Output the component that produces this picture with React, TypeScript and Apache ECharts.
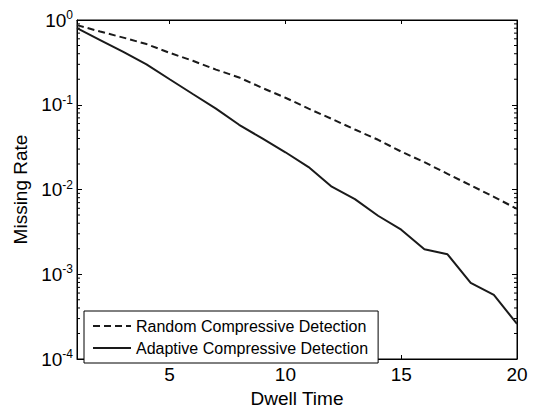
import React, { useEffect, useRef } from "react";
import * as echarts from "echarts";

const dwellTimes = [1, 2, 3, 4, 5, 6, 7, 8, 9, 10, 11, 12, 13, 14, 15, 16, 17, 18, 19, 20];
const randomRate = [0.87, 0.73, 0.62, 0.52, 0.41, 0.33, 0.26, 0.21, 0.158, 0.121, 0.09, 0.068, 0.051, 0.0386, 0.028, 0.021, 0.0153, 0.0112, 0.0082, 0.0059];
const adaptiveRate = [0.8, 0.58, 0.42, 0.3, 0.2, 0.134, 0.09, 0.058, 0.04, 0.0275, 0.0184, 0.0108, 0.0077, 0.0049, 0.00336, 0.00197, 0.00172, 0.00079, 0.00057, 0.00026];
const xTickValues = [5, 10, 15, 20];
const seriesNames = ["Random Compressive Detection", "Adaptive Compressive Detection"];
const minorTickValues: number[] = [];
for (let k = -4; k < 0; k++) {
  for (let m = 2; m <= 9; m++) minorTickValues.push(m * Math.pow(10, k));
}

const FONT = "Liberation Sans, Arial, Helvetica, sans-serif";

export default function App() {
  const ref = useRef<HTMLDivElement>(null);
  useEffect(() => {
    if (!ref.current) return;
    document.body.style.margin = "0";
    document.body.style.overflow = "hidden";
    const chart = echarts.init(ref.current, null, { renderer: "svg" });
    const xMin = 1;
    const xMax = 20;
    chart.setOption({
      animation: false,
      backgroundColor: "#fff",
      textStyle: { fontFamily: FONT, color: "#000" },
      grid: {
        left: 77,
        right: 16,
        top: 20,
        bottom: 49,
        show: true,
        borderColor: "#000",
        borderWidth: 1,
        backgroundColor: "transparent",
      },
      legend: {
        data: seriesNames,
        orient: "vertical",
        left: 84,
        top: 311,
        itemWidth: 38,
        itemHeight: 14,
        itemGap: 6,
        padding: [7, 10, 7, 8],
        borderColor: "#000",
        borderWidth: 1,
        backgroundColor: "#fff",
        itemStyle: { opacity: 0 },
        textStyle: { fontSize: 16, color: "#000", fontFamily: FONT },
      },
      xAxis: [
        {
          type: "value",
          min: xMin,
          max: xMax,
          name: "Dwell Time",
          nameLocation: "middle",
          nameGap: 30,
          nameTextStyle: { fontSize: 19, color: "#000", fontFamily: FONT },
          axisLine: { show: true, onZero: false, lineStyle: { color: "#000", width: 1 } },
          axisTick: { show: true, inside: true, length: 4, customValues: xTickValues, lineStyle: { color: "#000" } },
          axisLabel: { customValues: xTickValues, fontSize: 19, color: "#000", margin: 6, fontFamily: FONT },
          splitLine: { show: false },
        },
        {
          type: "value",
          position: "top",
          min: xMin,
          max: xMax,
          axisLine: { show: true, onZero: false, lineStyle: { color: "#000", width: 1 } },
          axisTick: { show: true, inside: true, length: 4, customValues: xTickValues, lineStyle: { color: "#000" } },
          axisLabel: { show: false },
          splitLine: { show: false },
        },
      ],
      yAxis: [
        {
          type: "log",
          logBase: 10,
          min: 1e-4,
          max: 1,
          name: "Missing Rate",
          nameLocation: "middle",
          nameGap: 44,
          nameTextStyle: { fontSize: 19, color: "#000", fontFamily: FONT },
          axisLine: { show: true, onZero: false, lineStyle: { color: "#000", width: 1 } },
          axisTick: { show: true, inside: true, length: 5, lineStyle: { color: "#000" } },
          axisLabel: {
            margin: 4,
            formatter: (v: number) => `{b|10}{s|${Math.round(Math.log10(v))}}`,
            rich: {
              b: { fontSize: 19, color: "#000", fontFamily: FONT, lineHeight: 22 },
              s: { fontSize: 12, color: "#000", fontFamily: FONT, lineHeight: 12, verticalAlign: "top" },
            },
          },
          splitLine: { show: false },
        },
        {
          type: "log",
          logBase: 10,
          min: 1e-4,
          max: 1,
          position: "right",
          axisLine: { show: true, onZero: false, lineStyle: { color: "#000", width: 1 } },
          axisTick: { show: true, inside: true, length: 5, lineStyle: { color: "#000" } },
          axisLabel: { show: false },
          splitLine: { show: false },
        },
      ],
      series: [
        {
          name: seriesNames[0],
          type: "line",
          symbol: "none",
          data: dwellTimes.map((x, i) => [x, randomRate[i]]),
          lineStyle: { color: "#1a1a1a", width: 2, type: [7, 4] },
          itemStyle: { color: "#1a1a1a" },
        },
        {
          name: seriesNames[1],
          type: "line",
          symbol: "none",
          data: dwellTimes.map((x, i) => [x, adaptiveRate[i]]),
          lineStyle: { color: "#1a1a1a", width: 2, type: "solid" },
          itemStyle: { color: "#1a1a1a" },
        },
        {
          name: "minorTicks",
          type: "custom",
          silent: true,
          data: minorTickValues.map((v) => [xMin, v]),
          renderItem: (params: any, api: any) => {
            const v = api.value(1);
            const l = api.coord([xMin, v]);
            const r = api.coord([xMax, v]);
            return {
              type: "group",
              children: [
                { type: "line", shape: { x1: l[0], y1: l[1], x2: l[0] + 3, y2: l[1] }, style: { stroke: "#000", lineWidth: 1 } },
                { type: "line", shape: { x1: r[0] - 3, y1: r[1], x2: r[0], y2: r[1] }, style: { stroke: "#000", lineWidth: 1 } },
              ],
            };
          },
        },
      ],
    });
    return () => chart.dispose();
  }, []);
  return <div ref={ref} style={{ width: 533, height: 413 }} />;
}
